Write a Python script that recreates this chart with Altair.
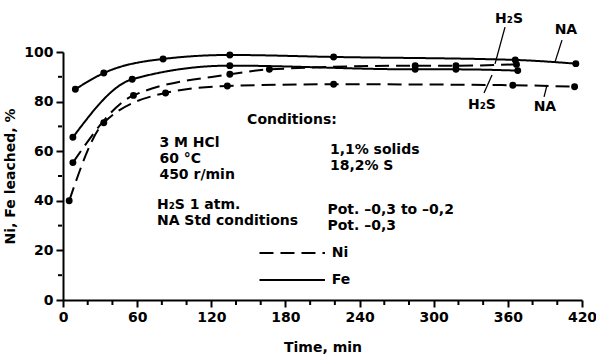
import altair as alt
import pandas as pd

# Leaching curves: time (min) against metal leached (%)
fe_na_t = [10, 33, 81, 135, 219, 366, 415]
fe_na_v = [85.0, 91.5, 97.2, 98.8, 98.0, 96.8, 95.3]
fe_h2s_t = [8, 56, 135, 285, 318, 368]
fe_h2s_v = [65.6, 89.0, 94.5, 93.0, 93.0, 92.5]
ni_h2s_t = [8, 57, 135, 167, 285, 318, 367]
ni_h2s_v = [55.4, 82.5, 91.0, 93.0, 94.5, 94.5, 95.0]
ni_na_t = [5, 33, 83, 133, 219, 364, 414]
ni_na_v = [40.0, 71.5, 83.5, 86.3, 87.0, 86.6, 86.0]

series = [
    ("Fe NA", "Fe", fe_na_t, fe_na_v),
    ("Fe H2S", "Fe", fe_h2s_t, fe_h2s_v),
    ("Ni H2S", "Ni", ni_h2s_t, ni_h2s_v),
    ("Ni NA", "Ni", ni_na_t, ni_na_v),
]
rows = []
for name, metal, ts, vs in series:
    for t, v in zip(ts, vs):
        rows.append({"series": name, "metal": metal, "t": t, "v": v})
curves = pd.DataFrame(rows)

# Condition notes, placed in (min, %) units
note_text = ["Conditions:", "3 M HCl", "60 °C", "450 r/min", "1,1% solids", "18,2% S",
             "H₂S 1 atm.", "NA Std conditions", "Pot. –0,3 to –0,2", "Pot. –0,3"]
note_t = [149, 78, 78, 78, 216, 216, 76, 76, 214, 214]
note_v = [72.6, 63.3, 56.9, 50.4, 60.5, 54.0, 38.3, 31.9, 36.3, 29.8]
notes = pd.DataFrame({"text": note_text, "t": note_t, "v": note_v})

# Line-style key
key_metal = ["Ni", "Fe"]
key_t0 = [159, 159]
key_t1 = [212, 212]
key_v = [19.0, 8.1]
key = pd.DataFrame({"metal": key_metal, "t0": key_t0, "t1": key_t1, "v": key_v,
                    "tl": [217.5, 217.5]})

# Curve labels with leader lines
lab_text = ["H₂S", "NA", "H₂S", "NA"]
lab_t = [361, 407, 339, 390]
lab_v = [113.3, 108.9, 78.6, 77.8]
labels = pd.DataFrame({"text": lab_text, "t": lab_t, "v": lab_v})
lead_t0 = [357.7, 403.8, 340.7, 389.3]
lead_v0 = [110.0, 104.8, 83.5, 81.9]
lead_t1 = [349.6, 398.2, 347.2, 391.7]
lead_v1 = [95.2, 96.0, 90.7, 86.7]
leaders = pd.DataFrame({"t0": lead_t0, "v0": lead_v0, "t1": lead_t1, "v1": lead_v1})

# Axis ticks: labelled majors and unlabelled minors
x_major = list(range(0, 421, 60))
x_minor = [t for t in range(0, 421, 20) if t % 60]
y_major = list(range(0, 101, 20))
y_minor = list(range(10, 100, 20))
minor_x = pd.DataFrame({"t": x_minor, "v": [0] * len(x_minor)})
minor_y = pd.DataFrame({"t": [0] * len(y_minor), "v": y_minor})

FONT = "DejaVu Sans"

x_scale = alt.Scale(domain=[0, 420], nice=False)
y_scale = alt.Scale(domain=[0, 100], nice=False)
dash_scale = alt.Scale(domain=["Ni", "Fe"], range=[[14, 7], [1, 0]])

x_axis = alt.Axis(values=x_major, tickSize=7, labelFlush=False, labelBound=False,
                  labelOverlap=False, title="Time, min", titlePadding=16, labelPadding=3)
y_axis = alt.Axis(values=y_major, tickSize=7, labelFlush=False, labelBound=False,
                  labelOverlap=False, title="Ni, Fe leached, %", titlePadding=6, labelPadding=3)

base = alt.Chart(curves)
lines = base.mark_line(interpolate="monotone", strokeWidth=2, color="black").encode(
    x=alt.X("t:Q", scale=x_scale, axis=x_axis),
    y=alt.Y("v:Q", scale=y_scale, axis=y_axis),
    strokeDash=alt.StrokeDash("metal:N", scale=dash_scale, legend=None),
    detail="series:N",
)
points = base.mark_circle(size=48, color="black", opacity=1).encode(
    x="t:Q", y="v:Q"
)

minor_x_ticks = alt.Chart(minor_x).mark_tick(
    orient="vertical", size=4, thickness=2, yOffset=3, color="black", opacity=1
).encode(x="t:Q", y="v:Q")
minor_y_ticks = alt.Chart(minor_y).mark_tick(
    orient="horizontal", size=4, thickness=2, xOffset=-3, color="black", opacity=1
).encode(x="t:Q", y="v:Q")

text_style = dict(font=FONT, fontSize=14, fontWeight="bold", color="black", baseline="middle")

note_layer = alt.Chart(notes).mark_text(align="left", **text_style).encode(
    x="t:Q", y="v:Q", text="text:N"
)

key_lines = alt.Chart(key).mark_rule(strokeWidth=2, color="black").encode(
    x="t0:Q", x2="t1:Q", y="v:Q",
    strokeDash=alt.StrokeDash("metal:N", scale=dash_scale, legend=None),
)
key_text = alt.Chart(key).mark_text(align="left", **text_style).encode(
    x="tl:Q", y="v:Q", text="metal:N"
)

leader_layer = alt.Chart(leaders).mark_rule(strokeWidth=1.3, color="black").encode(
    x="t0:Q", x2="t1:Q", y="v0:Q", y2="v1:Q"
)
label_layer = alt.Chart(labels).mark_text(align="center", **text_style).encode(
    x="t:Q", y="v:Q", text="text:N"
)

chart = alt.layer(
    lines, points, minor_x_ticks, minor_y_ticks, note_layer, key_lines, key_text,
    leader_layer, label_layer
).properties(
    width=519, height=248,
    autosize=alt.AutoSizeParams(type="none"),
    padding={"left": 63, "top": 52, "right": 14, "bottom": 63},
    background="white",
).configure_view(stroke=None).configure_axis(
    domainColor="black", domainWidth=2, tickColor="black", tickWidth=2,
    labelFont=FONT, labelFontSize=14, labelFontWeight="bold", labelColor="black",
    titleFont=FONT, titleFontSize=14, titleFontWeight="bold", titleColor="black",
    grid=False,
)

chart.save("out.html", embed_options={"renderer": "svg", "actions": False})
